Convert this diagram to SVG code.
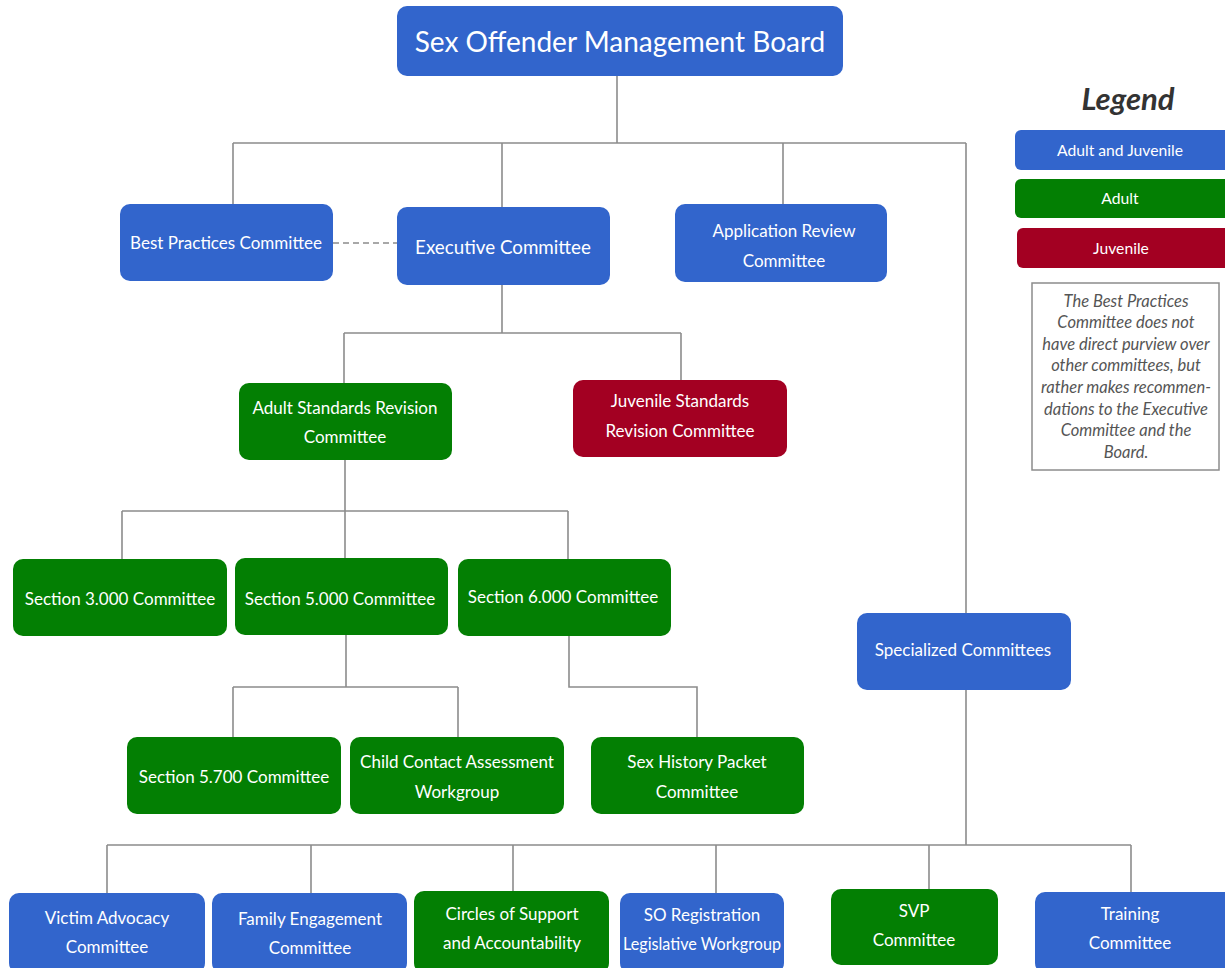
<svg xmlns="http://www.w3.org/2000/svg" width="1225" height="968" viewBox="0 0 1225 968">
<defs>
<style>
.b{fill:#3265cc}
.g{fill:#037f03}
.r{fill:#a30022}
.t{font-family:Lato,"Liberation Sans",sans-serif;fill:#fff;text-anchor:middle;font-size:17px}
.c{stroke:#8c8c8c;stroke-width:1.6;fill:none}
.n{font-family:Lato,"Liberation Sans",sans-serif;font-style:italic;fill:#555;text-anchor:middle;font-size:16.5px}
.l{font-size:15.7px}
</style>
</defs>
<rect width="1225" height="968" fill="#fff"/>
<g id="connectors" class="c">
<path d="M617 76V143M233 143H966M233 143V205M502 143V208M783 143V205M966 143V614"/>
<path d="M333 243H397" stroke-dasharray="6 4"/>
<path d="M502 285V333M344 333H681M344 333V383M681 333V380"/>
<path d="M345 460V511M122 511H568M122 511V559M345 511V558M568 511V559"/>
<path d="M346 635V687M233 687H458M233 687V737M458 687V737"/>
<path d="M569 636V687H697V737"/>
<path d="M966 690V845M107 845H1131M107 845V893M311 845V893M513 845V891M716 845V893M929 845V889M1131 845V892"/>
</g>
<g id="board"><rect class="b" x="397" y="6" width="446" height="70" rx="10"/><text class="t" x="620" y="52" style="font-size:28px">Sex Offender Management Board</text></g>
<g id="best"><rect class="b" x="120" y="204" width="213" height="77" rx="10"/><text class="t" x="226" y="249">Best Practices Committee</text></g>
<g id="exec"><rect class="b" x="397" y="207" width="213" height="78" rx="10"/><text class="t" x="503" y="254" style="font-size:18.8px">Executive Committee</text></g>
<g id="appreview"><rect class="b" x="675" y="204" width="212" height="78" rx="10"/><text class="t" x="784" y="237">Application Review</text><text class="t" x="784" y="267">Committee</text></g>
<g id="adultstd"><rect class="g" x="239" y="383" width="213" height="77" rx="10"/><text class="t" x="345" y="414">Adult Standards Revision</text><text class="t" x="345" y="443">Committee</text></g>
<g id="juvstd"><rect class="r" x="573" y="380" width="214" height="77" rx="10"/><text class="t" x="680" y="407">Juvenile Standards</text><text class="t" x="680" y="437">Revision Committee</text></g>
<g id="sec3"><rect class="g" x="13" y="559" width="214" height="77" rx="10"/><text class="t" x="120" y="605">Section 3.000 Committee</text></g>
<g id="sec5"><rect class="g" x="235" y="558" width="213" height="77" rx="10"/><text class="t" x="340" y="605">Section 5.000 Committee</text></g>
<g id="sec6"><rect class="g" x="458" y="559" width="213" height="77" rx="10"/><text class="t" x="563" y="603">Section 6.000 Committee</text></g>
<g id="sec57"><rect class="g" x="127" y="737" width="214" height="77" rx="10"/><text class="t" x="234" y="783">Section 5.700 Committee</text></g>
<g id="childcontact"><rect class="g" x="350" y="737" width="214" height="77" rx="10"/><text class="t" x="457" y="768">Child Contact Assessment</text><text class="t" x="457" y="798">Workgroup</text></g>
<g id="sexhistory"><rect class="g" x="591" y="737" width="213" height="77" rx="10"/><text class="t" x="697" y="768">Sex History Packet</text><text class="t" x="697" y="798">Committee</text></g>
<g id="specialized"><rect class="b" x="857" y="613" width="214" height="77" rx="10"/><text class="t" x="963" y="656">Specialized Committees</text></g>
<g id="victim"><rect class="b" x="9" y="893" width="196" height="80" rx="10"/><text class="t" x="107" y="924">Victim Advocacy</text><text class="t" x="107" y="953">Committee</text></g>
<g id="family"><rect class="b" x="212" y="893" width="195" height="80" rx="10"/><text class="t" x="310" y="925">Family Engagement</text><text class="t" x="310" y="954">Committee</text></g>
<g id="circles"><rect class="g" x="414" y="891" width="195" height="82" rx="10"/><text class="t" x="512" y="920">Circles of Support</text><text class="t" x="512" y="949">and Accountability</text></g>
<g id="soreg"><rect class="b" x="620" y="893" width="164" height="80" rx="10"/><text class="t" x="702" y="921">SO Registration</text><text class="t" x="702" y="950" textLength="158" lengthAdjust="spacingAndGlyphs">Legislative Workgroup</text></g>
<g id="svp"><rect class="g" x="831" y="889" width="167" height="76" rx="10"/><text class="t" x="914" y="917">SVP</text><text class="t" x="914" y="946">Committee</text></g>
<g id="training"><rect class="b" x="1035" y="892" width="200" height="81" rx="10"/><text class="t" x="1130" y="920">Training</text><text class="t" x="1130" y="949">Committee</text></g>
<g id="legend">
<text x="1128" y="110" font-family="Lato,'Liberation Sans',sans-serif" font-weight="bold" font-style="italic" font-size="31" fill="#333" text-anchor="middle">Legend</text>
<rect class="b" x="1015" y="130" width="220" height="40" rx="6"/><text class="t l" x="1120" y="156">Adult and Juvenile</text>
<rect class="g" x="1015" y="179" width="220" height="39" rx="6"/><text class="t l" x="1120" y="204">Adult</text>
<rect class="r" x="1017" y="228" width="218" height="40" rx="6"/><text class="t l" x="1121" y="254">Juvenile</text>
<rect x="1032" y="283" width="187" height="187" fill="#fff" stroke="#8c8c8c" stroke-width="1.5"/>
<text class="n" x="1126" y="307">The Best Practices</text>
<text class="n" x="1126" y="328">Committee does not</text>
<text class="n" x="1126" y="350">have direct purview over</text>
<text class="n" x="1126" y="371">other committees, but</text>
<text class="n" x="1126" y="393">rather makes recommen-</text>
<text class="n" x="1126" y="415">dations to the Executive</text>
<text class="n" x="1126" y="436">Committee and the</text>
<text class="n" x="1126" y="458">Board.</text>
</g>
</svg>
